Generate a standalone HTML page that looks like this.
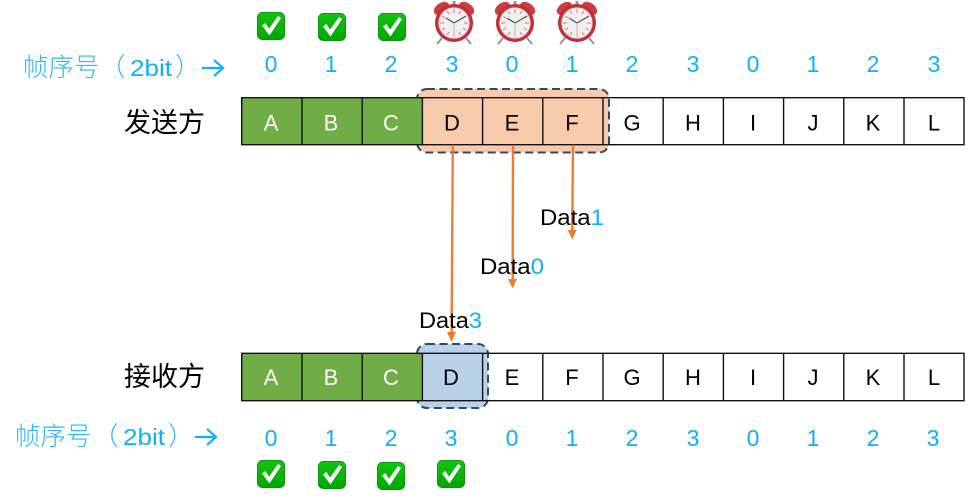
<!DOCTYPE html>
<html lang="zh">
<head>
<meta charset="utf-8">
<title>帧序号 diagram</title>
<style>
html,body{margin:0;padding:0;background:#fff;width:980px;height:500px;overflow:hidden}
svg{display:block}
text{font-family:"Liberation Sans","Noto Sans CJK SC",sans-serif}
.n{font-size:23px;fill:#0fb0f5;text-anchor:middle}
.w{font-size:22px;fill:#fff;text-anchor:middle}
.b{font-size:22px;fill:#000;text-anchor:middle}
.d{font-size:22px;fill:#000}
.d tspan{fill:#0fb0f5}
.l{font-size:27px;fill:#000;font-family:"Noto Sans CJK SC",sans-serif}
.s{font-size:25.5px;fill:#2bb8f5;font-family:"Noto Sans CJK SC",sans-serif;font-weight:300}
.t{font-size:23px;fill:#0fb0f5}
</style>
</head>
<body>
<svg width="980" height="500" viewBox="0 0 980 500" xmlns="http://www.w3.org/2000/svg">
<defs>
<linearGradient id="gg" x1="0" y1="0" x2="0" y2="1"><stop offset="0" stop-color="#12c412"/><stop offset="1" stop-color="#00a600"/></linearGradient>
<radialGradient id="rg"><stop offset="0.75" stop-color="#d5434a"/><stop offset="1" stop-color="#b02a30"/></radialGradient>
<g id="chk">
<rect x="-13.6" y="-13.6" width="27.2" height="27.2" rx="5" fill="url(#gg)" stroke="#0b8f0b" stroke-width="0.8"/>
<path d="M-9 -0.5 L-5.6 -3 L-2 2.6 L7 -10 L10 -8 L-1.5 9.5 Z" fill="#fff"/>
</g>
<g id="clk">
<path d="M-12 15 L-17 21 M12 15 L17 21" stroke="#8a8f94" stroke-width="1.8"/>
<path d="M0 -19 V-22" stroke="#999" stroke-width="3"/>
<ellipse cx="-12.5" cy="-14.5" rx="8.5" ry="5.5" fill="#cf3b40" transform="rotate(-35 -12.5 -14.5)"/>
<ellipse cx="12.5" cy="-14.5" rx="8.5" ry="5.5" fill="#cf3b40" transform="rotate(35 12.5 -14.5)"/>
<circle r="19" fill="url(#rg)"/>
<circle r="15.5" fill="#f0f0f0"/>
<path d="M0 -14V-10M0 14V10M-14 0H-10M14 0H10M-7 -12L-5 -9M7 -12L5 -9M-12 -7L-9 -5M12 -7L9 -5M-12 7L-9 5M12 7L9 5M-7 12L-5 9M7 12L5 9" stroke="#ec8a90" stroke-width="1.2"/>
<path d="M-8 -5 L0 0 L12 -7" fill="none" stroke="#555" stroke-width="1.2"/>
<path d="M0 0 V14" stroke="#d9b9a0" stroke-width="1"/>
</g>
</defs>

<!-- top icons -->
<use href="#chk" x="271" y="26"/>
<use href="#chk" x="332" y="27"/>
<use href="#chk" x="392" y="27"/>
<use href="#clk" x="454" y="23"/>
<use href="#clk" x="515" y="23"/>
<use href="#clk" x="577" y="23"/>

<!-- top label -->
<text class="s" x="23" y="76">帧序号</text>
<text class="s" x="100" y="76">（</text>
<text class="t" x="130" y="76" textLength="42" lengthAdjust="spacingAndGlyphs">2bit</text>
<text class="s" x="175" y="76">）</text>
<path d="M202 68 H222 M214 60 L223 68 L214 76" fill="none" stroke="#0fb0f5" stroke-width="2.2"/>

<!-- top numbers -->
<text class="n" x="271" y="72">0</text><text class="n" x="331" y="72">1</text><text class="n" x="391" y="72">2</text><text class="n" x="452" y="72">3</text><text class="n" x="512" y="72">0</text><text class="n" x="572" y="72">1</text><text class="n" x="632" y="72">2</text><text class="n" x="693" y="72">3</text><text class="n" x="753" y="72">0</text><text class="n" x="813" y="72">1</text><text class="n" x="873" y="72">2</text><text class="n" x="934" y="72">3</text>

<!-- top row -->
<text class="l" x="124" y="132">发送方</text>
<rect x="417" y="89" width="192" height="63.5" rx="10" fill="#f8cbad"/>
<rect x="417" y="89" width="192" height="63.5" rx="10" fill="none" stroke="#2f4b6a" stroke-width="2" stroke-dasharray="8 4.5"/>
<rect x="241.7" y="97.7" width="180.6" height="47" fill="#70ad47"/>
<path d="M241.7 97.7H964V144.7H241.7Z M302 97.7V144.7 M362.2 97.7V144.7 M422.4 97.7V144.7 M482.6 97.7V144.7 M542.8 97.7V144.7 M603 97.7V144.7 M663.2 97.7V144.7 M723.4 97.7V144.7 M783.6 97.7V144.7 M843.8 97.7V144.7 M904 97.7V144.7" fill="none" stroke="#111" stroke-width="1.4"/>
<text class="w" x="271" y="130.5">A</text><text class="w" x="331" y="130.5">B</text><text class="w" x="391" y="130.5">C</text>
<text class="b" x="452" y="130.5">D</text><text class="b" x="512" y="130.5">E</text><text class="b" x="572" y="130.5">F</text><text class="b" x="632" y="130.5">G</text><text class="b" x="693" y="130.5">H</text><text class="b" x="753" y="130.5">I</text><text class="b" x="813" y="130.5">J</text><text class="b" x="873" y="130.5">K</text><text class="b" x="934" y="130.5">L</text>

<!-- arrows -->
<g stroke="#ed7d31" stroke-width="2.4" fill="none">
<path d="M452.8 145 L451.6 334"/>
<path d="M513 145 L512.7 280"/>
<path d="M573 145 L572.2 231"/>
</g>
<g fill="#ed7d31">
<path d="M447 332 H456 L451.5 342Z"/>
<path d="M508 279 H517 L512.5 288.5Z"/>
<path d="M567.7 230 H576.7 L572.2 239.5Z"/>
</g>
<text class="d" x="540" y="225" textLength="64" lengthAdjust="spacingAndGlyphs">Data<tspan>1</tspan></text>
<text class="d" x="480" y="274" textLength="64" lengthAdjust="spacingAndGlyphs">Data<tspan>0</tspan></text>
<text class="d" x="419" y="328" textLength="63" lengthAdjust="spacingAndGlyphs">Data<tspan>3</tspan></text>

<!-- bottom row -->
<text class="l" x="124" y="386">接收方</text>
<rect x="417" y="344" width="71" height="64" rx="10" fill="#b9d2ea"/>
<rect x="417" y="344" width="71" height="64" rx="10" fill="none" stroke="#2f4b6a" stroke-width="2" stroke-dasharray="8 4.5"/>
<rect x="241.7" y="353.3" width="180.6" height="47.4" fill="#70ad47"/>
<path d="M241.7 353.3H964V400.7H241.7Z M302 353.3V400.7 M362.2 353.3V400.7 M422.4 353.3V400.7 M482.6 353.3V400.7 M542.8 353.3V400.7 M603 353.3V400.7 M663.2 353.3V400.7 M723.4 353.3V400.7 M783.6 353.3V400.7 M843.8 353.3V400.7 M904 353.3V400.7" fill="none" stroke="#111" stroke-width="1.4"/>
<text class="w" x="271" y="385">A</text><text class="w" x="331" y="385">B</text><text class="w" x="391" y="385">C</text>
<text class="b" x="451" y="385">D</text><text class="b" x="512" y="385">E</text><text class="b" x="572" y="385">F</text><text class="b" x="632" y="385">G</text><text class="b" x="693" y="385">H</text><text class="b" x="753" y="385">I</text><text class="b" x="813" y="385">J</text><text class="b" x="873" y="385">K</text><text class="b" x="934" y="385">L</text>

<!-- bottom label -->
<text class="s" x="15" y="445">帧序号</text>
<text class="s" x="93" y="445">（</text>
<text class="t" x="123" y="445" textLength="42" lengthAdjust="spacingAndGlyphs">2bit</text>
<text class="s" x="168" y="445">）</text>
<path d="M195 437 H215 M207 429 L216 437 L207 445" fill="none" stroke="#0fb0f5" stroke-width="2.2"/>

<!-- bottom numbers -->
<text class="n" x="271" y="446">0</text><text class="n" x="331" y="446">1</text><text class="n" x="391" y="446">2</text><text class="n" x="451" y="446">3</text><text class="n" x="512" y="446">0</text><text class="n" x="572" y="446">1</text><text class="n" x="632" y="446">2</text><text class="n" x="693" y="446">3</text><text class="n" x="753" y="446">0</text><text class="n" x="813" y="446">1</text><text class="n" x="873" y="446">2</text><text class="n" x="933" y="446">3</text>

<!-- bottom checks -->
<use href="#chk" x="271" y="474"/>
<use href="#chk" x="332" y="475"/>
<use href="#chk" x="391" y="476"/>
<use href="#chk" x="451" y="474"/>
</svg>
</body>
</html>
